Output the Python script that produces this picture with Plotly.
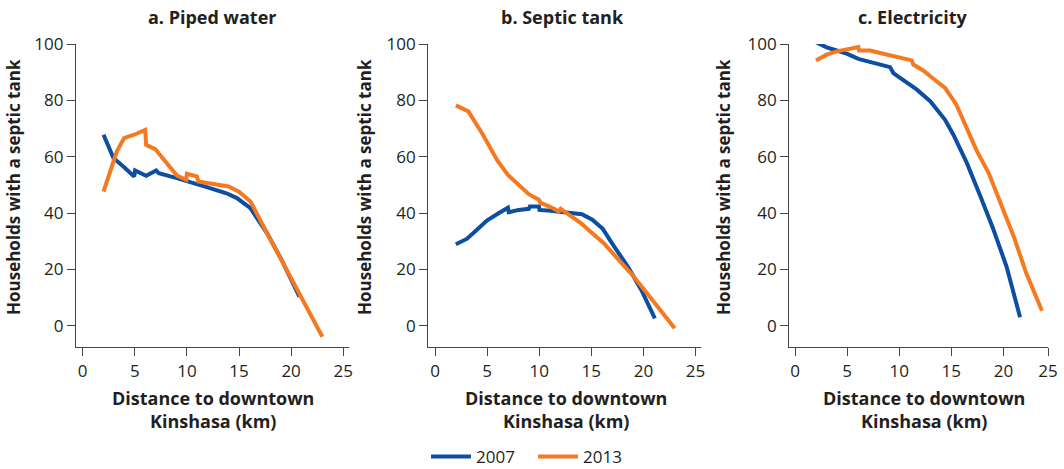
import plotly.graph_objects as go

W, H = 1064, 469

# ---------------- data ----------------
panel_titles = ["a. Piped water", "b. Septic tank", "c. Electricity"]
y_title = "Households with a septic tank"
x_title = "Distance to downtown<br>Kinshasa (km)"
years = ["2007", "2013"]
y_ticks = [0, 20, 40, 60, 80, 100]
x_tick_labels = ["0", "5", "10", "15", "20", "25"]

piped_2007_x = [2.0, 2.95, 3.9, 4.94, 5.03, 6.09, 7.05, 7.3, 9.04, 10.0, 11.9, 13.8, 14.8, 16.1, 17.7, 19.1, 20.8]
piped_2007_y = [67.8, 59.5, 56.5, 53.0, 55.1, 53.2, 55.1, 54.1, 52.4, 51.2, 49.2, 47.0, 45.3, 41.7, 32.8, 23.3, 10.3]
piped_2013_x = [2.0, 2.95, 3.27, 3.97, 4.94, 6.0, 6.09, 6.96, 8.08, 9.04, 9.94, 10.0, 10.96, 11.1, 12.1, 14.0, 15.0, 16.1, 17.7, 20.3, 23.0]
piped_2013_y = [47.6, 57.7, 61.8, 66.6, 67.8, 69.5, 64.2, 62.7, 57.7, 53.3, 51.8, 53.9, 53.0, 51.2, 50.6, 49.4, 47.6, 44.1, 32.8, 15.0, -3.9]

septic_2007_x = [2.0, 3.05, 4.0, 4.98, 6.1, 7.0, 7.07, 8.04, 9.0, 9.1, 9.97, 10.03, 11.1, 12.06, 13.0, 14.1, 15.1, 16.1, 17.2, 18.5, 19.8, 21.1]
septic_2007_y = [28.9, 30.8, 34.0, 37.3, 39.9, 41.9, 40.3, 41.1, 41.5, 42.3, 42.3, 41.1, 40.8, 40.5, 40.2, 39.6, 37.6, 34.4, 28.1, 21.0, 12.7, 2.6]
septic_2013_x = [2.0, 2.89, 3.2, 4.5, 5.6, 6.0, 6.98, 8.04, 9.0, 9.97, 10.1, 11.1, 11.9, 12.06, 12.9, 14.0, 15.1, 16.2, 17.5, 18.8, 20.1, 21.4, 23.0]
septic_2013_y = [78.2, 76.9, 76.1, 68.4, 61.3, 58.6, 53.6, 50.0, 46.7, 44.7, 43.7, 42.1, 40.5, 41.5, 39.3, 36.4, 32.8, 29.3, 23.9, 18.6, 12.7, 6.8, -0.9]

elec_2007_x = [2.02, 3.04, 4.0, 4.96, 6.08, 7.04, 8.16, 9.12, 9.44, 10.4, 11.7, 13.0, 14.4, 15.2, 16.5, 17.8, 19.0, 20.3, 21.6]
elec_2007_y = [100.6, 98.8, 97.7, 96.6, 94.7, 93.8, 93.0, 91.8, 89.7, 87.3, 83.8, 79.6, 73.1, 67.8, 57.7, 45.9, 34.6, 21.0, 3.0]
elec_2013_x = [2.02, 3.04, 4.0, 5.12, 6.08, 6.14, 7.2, 8.16, 9.44, 10.4, 11.2, 11.36, 12.3, 13.4, 14.4, 15.5, 16.5, 17.4, 18.6, 19.7, 21.0, 22.2, 23.7]
elec_2013_y = [94.1, 96.2, 97.4, 98.2, 98.9, 97.7, 97.7, 96.8, 95.6, 95.0, 94.2, 92.7, 90.6, 87.3, 84.4, 78.4, 69.5, 62.4, 54.1, 43.5, 31.6, 18.6, 5.3]

panels = [
    (piped_2007_x, piped_2007_y, piped_2013_x, piped_2013_y),
    (septic_2007_x, septic_2007_y, septic_2013_x, septic_2013_y),
    (elec_2007_x, elec_2007_y, elec_2013_x, elec_2013_y),
]

# ---------------- style / layout ----------------
BLUE = "#0B4EA2"
ORANGE = "#F47920"
AXC = "#444444"
TXT = "#231F20"
FONT = "Open Sans"

# pixel geometry of each panel: (left spine, right end, x-pixel of value 0, px per km)
geo = [(76, 349, 82.7, 10.42), (428.3, 701, 435.0, 10.42), (789.3, 1048, 795.0, 10.42)]
y_top_px, y_bot_px = 44, 347
y_range = [-7.56, 100]
# last tick of panel c sits at the axis end in the reference
x_tick_vals = [[0, 5, 10, 15, 20, 25], [0, 5, 10, 15, 20, 25], [0, 5, 10, 15, 20, 24.28]]

title_px = [212, 562, 913]
xtitle_px = [212.5, 566, 924]
ytitle_px = [14, 365, 724]

fig = go.Figure()
annotations = []
for i, (x7, y7, x13, y13) in enumerate(panels):
    n = "" if i == 0 else str(i + 1)
    xa, ya = "x" + n, "y" + n
    fig.add_trace(go.Scatter(x=x7, y=y7, mode="lines", name=years[0], xaxis=xa, yaxis=ya,
                             line=dict(color=BLUE, width=4), showlegend=(i == 0), legendgroup="a"))
    fig.add_trace(go.Scatter(x=x13, y=y13, mode="lines", name=years[1], xaxis=xa, yaxis=ya,
                             line=dict(color=ORANGE, width=4), showlegend=(i == 0), legendgroup="b"))
    left, right, x0, pk = geo[i]
    xr = [(left - x0) / pk, (right - x0) / pk]
    common = dict(showgrid=False, zeroline=False, showline=True, linecolor=AXC, linewidth=1.3,
                  ticks="outside", ticklen=8, tickwidth=1.3, tickcolor=AXC, automargin=False,
                  tickfont=dict(family=FONT, size=17, color=TXT))
    fig.layout["xaxis" + n] = dict(domain=[left / W, right / W], range=xr, anchor=ya,
                                   tickvals=x_tick_vals[i], ticktext=x_tick_labels, **common)
    fig.layout["yaxis" + n] = dict(domain=[1 - y_bot_px / H, 1 - y_top_px / H], range=y_range, anchor=xa,
                                   tickvals=y_ticks, **common)
    annotations.append(dict(text="<b>%s</b>" % panel_titles[i], x=title_px[i] / W, y=1 - 17 / H,
                            xref="paper", yref="paper", showarrow=False, xanchor="center", yanchor="middle",
                            font=dict(family=FONT, size=18, color=TXT)))
    annotations.append(dict(text="<b>%s</b>" % x_title.replace("<br>", "</b><br><b>"), x=xtitle_px[i] / W,
                            y=1 - 409.5 / H, xref="paper", yref="paper", showarrow=False,
                            xanchor="center", yanchor="middle",
                            font=dict(family=FONT, size=18, color=TXT)))
    annotations.append(dict(text="<b>%s</b>" % y_title, x=ytitle_px[i] / W, y=1 - 187 / H,
                            xref="paper", yref="paper", showarrow=False, textangle=-90,
                            xanchor="center", yanchor="middle",
                            font=dict(family=FONT, size=17, color=TXT)))

fig.update_layout(
    width=W, height=H,
    margin=dict(l=0, r=0, t=0, b=0, autoexpand=False),
    paper_bgcolor="white", plot_bgcolor="white",
    annotations=annotations,
    showlegend=True,
    legend=dict(orientation="h", x=533 / W, xanchor="center", y=1 - 457 / H, yanchor="middle",
                font=dict(family=FONT, size=17, color=TXT), itemwidth=40, entrywidth=52,
                bgcolor="rgba(0,0,0,0)"),
)

fig.write_html("out.html")
